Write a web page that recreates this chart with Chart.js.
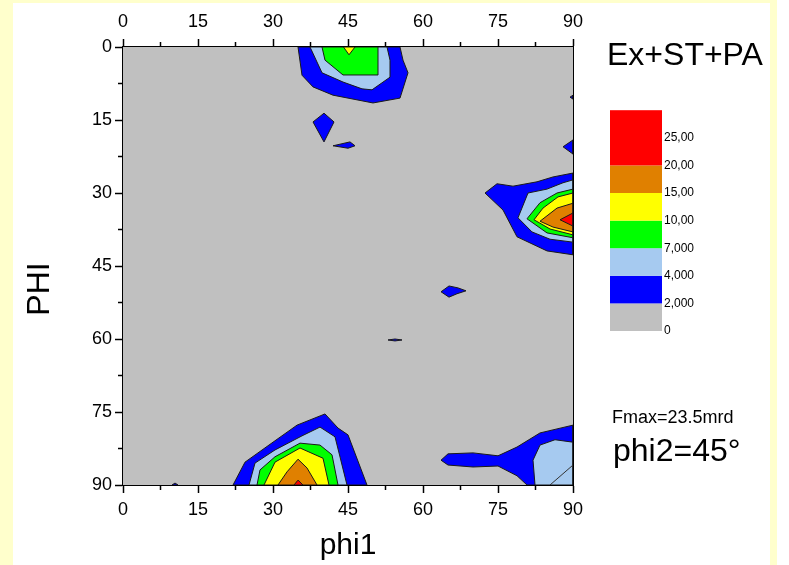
<!DOCTYPE html>
<html><head><meta charset="utf-8">
<script src="https://cdn.jsdelivr.net/npm/chart.js@4.4.0/dist/chart.umd.min.js"></script>
<style>
html,body{margin:0;padding:0;background:#fff;}
#wrap{position:relative;width:789px;height:565px;overflow:hidden;background:#fff;}
.yl{position:absolute;background:#ffffcc;}
canvas{position:absolute;left:0;top:0;}
</style></head><body>
<div id="wrap">
<div class="yl" style="left:0;top:0;width:13px;height:565px"></div>
<div class="yl" style="left:0;top:0;width:777px;height:3px"></div>
<div class="yl" style="left:770px;top:0;width:7px;height:565px"></div>
<canvas id="c" width="789" height="565"></canvas>
</div>
<script>
// ---- axis ticks ----
const phi1Ticks = [0, 15, 30, 45, 60, 75, 90];
const phiTicks = [0, 15, 30, 45, 60, 75, 90];
const minorTicks = [7.5, 22.5, 37.5, 52.5, 67.5, 82.5];

// ---- contour levels (legend) ----
const levelLabels = ['0', '2,000', '4,000', '7,000', '10,00', '15,00', '20,00', '25,00'];
const levelColors = ['#c0c0c0', '#0000ff', '#a6caf0', '#00ff00', '#ffff00', '#e08000', '#ff0000'];

// ---- contour outlines [phi1, PHI] ----
// peak at phi1≈45, PHI≈0
const topBlue = [[35,0],[35.8,5.8],[38,8.2],[42,9.9],[50,11.5],[55.4,10.5],[57,5.3],[56,2.7],[55.4,0]];
const topLightBlue = [[37.4,0],[39.8,5.3],[44,7.2],[47.8,8.6],[49.8,8.8],[53.4,6.2],[53.4,2.7],[52.8,0]];
const topGreen = [[39.8,0],[40.4,2.7],[44,5.75],[51,5.75],[51,0]];
const topYellow = [[44.1,0],[45.2,1.6],[46.4,0]];
// small islands
const diamondBlue = [[38,15.4],[40.2,13.6],[42.2,15.4],[40.2,19.5]];
const sliverBlue = [[42,20.3],[45.4,19.5],[46.4,20.3],[45,20.8]];
const edgeBlueA = [[89.4,10.3],[90,9.9],[90,10.7]];
const edgeBlueB = [[88,20.5],[90,19.1],[90,22]];
const midBlueA = [[63.6,50.3],[65.2,49.1],[67,49.5],[68.6,50.1],[66.8,50.7],[65.2,51.4]];
const midBlueB = [[53,60.2],[54.4,60],[55.8,60.2],[54.4,60.4]];
const tinyBlue = [[9.8,90],[10.4,89.6],[11,90]];
// peak at phi1=90, PHI≈35
const rightBlue = [[72.4,30],[74.8,28.1],[78,28.6],[82.8,27.7],[86,26.7],[90,25.9],[90,42.7],[84.8,41.9],[78.8,39],[76,33.5]];
const rightLightBlue = [[79,35.1],[81,30],[84.8,29.2],[88,27.9],[90,27.3],[90,40.1],[85.4,39.5],[81.8,38]];
const rightGreen = [[80.8,35.3],[83.4,32],[86.8,30],[90,29.2],[90,39.2],[84.8,38.2]];
const rightYellow = [[82.2,35.5],[84,33.1],[87,30.8],[90,30],[90,38.6],[85.4,37.4]];
const rightOrange = [[83.4,35.8],[86.8,33.1],[90,32.1],[90,38],[86,37]];
const rightRed = [[87.4,35.5],[90,34.1],[90,36.8]];
// peak at phi1≈35, PHI=90
const bottomBlue = [[22,90],[24.4,85.3],[30,81.2],[34.8,77.7],[40.4,75.4],[43,78.3],[45,79.7],[48.8,90]];
const bottomLightBlue = [[25.2,90],[26.4,85.5],[30.4,82.8],[35.8,79.9],[39.4,78.1],[42.4,80.1],[44.8,90]];
const bottomGreen = [[26.8,90],[27.4,86.9],[30.4,84.2],[35.4,81.4],[39.4,81.8],[41.8,83.8],[43,90]];
const bottomYellow = [[28.2,90],[30.4,85.3],[35.4,82.4],[40,84.5],[41.2,90]];
const bottomOrange = [[31,90],[32.8,87.3],[35,84.7],[36.8,86.5],[38.8,90]];
const bottomRed = [[34.2,90],[35,89],[36,90]];
// corner phi1=90, PHI=90
const cornerBlue = [[63.6,84.9],[65,83.6],[70,83.4],[75,84],[78.8,82.2],[83.4,79.3],[90,77.7],[90,90],[80.8,90],[78.8,88.1],[75,86.1],[70,86.3],[65,85.9]];
const cornerLightBlue = [[82.4,90],[82,84.9],[83.4,81.8],[86.4,80.7],[90,81.2],[90,90]];
const cornerLine = [[85.4,90],[90,85.9]];

const contours = [
  [topBlue,1],[topLightBlue,2],[topGreen,3],[topYellow,4],
  [diamondBlue,1],[sliverBlue,1],[edgeBlueA,1],[edgeBlueB,1],[midBlueA,1],[midBlueB,1],[tinyBlue,1],
  [rightBlue,1],[rightLightBlue,2],[rightGreen,3],[rightYellow,4],[rightOrange,5],[rightRed,6],
  [bottomBlue,1],[bottomLightBlue,2],[bottomGreen,3],[bottomYellow,4],[bottomOrange,5],[bottomRed,6],
  [cornerBlue,1],[cornerLightBlue,2]
];

const FONT = '"Liberation Sans", Arial, sans-serif';

const datasets = contours.map(([pts, lvl]) => ({
  data: pts.concat([pts[0]]).map(p => ({x: p[0], y: p[1]})),
  fill: 'shape',
  backgroundColor: levelColors[lvl],
  borderColor: '#1a1a1a',
  borderWidth: 1,
  pointRadius: 0,
  tension: 0,
  order: 20 - lvl
}));
datasets.push({
  data: cornerLine.map(p => ({x: p[0], y: p[1]})),
  fill: false, borderColor: '#333', borderWidth: 1, pointRadius: 0, tension: 0, order: 0
});

const bgPlugin = {
  id: 'bg',
  beforeDatasetsDraw(chart) {
    const {ctx, chartArea: a} = chart;
    ctx.save();
    ctx.fillStyle = levelColors[0];
    ctx.fillRect(a.left, a.top, a.right - a.left, a.bottom - a.top);
    ctx.restore();
  }
};

const minorPlugin = {
  id: 'minor',
  afterDraw(chart) {
    const {ctx, chartArea: a, scales} = chart;
    ctx.save();
    ctx.strokeStyle = '#000';
    ctx.lineWidth = 1.5;
    ctx.beginPath();
    minorTicks.forEach(v => {
      const x = scales.x.getPixelForValue(v);
      ctx.moveTo(x, a.bottom); ctx.lineTo(x, a.bottom + 5);
      const x2 = scales.x2.getPixelForValue(v);
      ctx.moveTo(x2, a.top); ctx.lineTo(x2, a.top - 5);
      const y = scales.y.getPixelForValue(v);
      ctx.moveTo(a.left, y); ctx.lineTo(a.left - 5, y);
    });
    ctx.stroke();
    ctx.restore();
  }
};

const textPlugin = {
  id: 'texts',
  afterDraw(chart) {
    const ctx = chart.ctx;
    ctx.save();
    ctx.fillStyle = '#000';
    ctx.textBaseline = 'middle';
    ctx.textAlign = 'left';
    ctx.font = '32px ' + FONT;
    ctx.fillText('Ex+ST+PA', 607, 56);
    ctx.font = '18px ' + FONT;
    ctx.fillText('Fmax=23.5mrd', 612, 418);
    ctx.font = '32px ' + FONT;
    ctx.fillText('phi2=45°', 613, 452);
    // y-axis title
    ctx.save();
    ctx.translate(40, 289);
    ctx.rotate(-Math.PI / 2);
    ctx.textAlign = 'center';
    ctx.font = '32px ' + FONT;
    ctx.fillText('PHI', 0, 0);
    ctx.restore();
    // colour scale
    const left = 610, w = 52, bottom = 331, step = 27.6;
    for (let i = 0; i < levelColors.length; i++) {
      const yb = bottom - i * step;
      const h = (i === levelColors.length - 1) ? 2 * step : step;
      ctx.fillStyle = levelColors[i];
      ctx.fillRect(left, yb - h, w, h);
    }
    ctx.fillStyle = '#000';
    ctx.font = '12px ' + FONT;
    levelLabels.forEach((t, i) => ctx.fillText(t, left + w + 2, bottom - i * step));
    ctx.restore();
  }
};

function axisBase(ticksArr, extra, pad) {
  return Object.assign({
    type: 'linear', min: 0, max: 90,
    afterBuildTicks: s => { s.ticks = ticksArr.map(v => ({value: v})); },
    ticks: {font: {family: FONT, size: 18}, color: '#000', maxRotation: 0, autoSkip: false, padding: pad},
    grid: {drawOnChartArea: false, drawTicks: true, tickLength: 8, tickColor: '#000', tickWidth: 1.5},
    border: {display: true, color: '#000', width: 2}
  }, extra);
}

new Chart(document.getElementById('c'), {
  type: 'line',
  data: {datasets},
  options: {
    responsive: false,
    animation: false,
    events: [],
    layout: {padding: 0},
    plugins: {legend: {display: false}, tooltip: {enabled: false}},
    scales: {
      x: axisBase(phi1Ticks, {
        position: 'bottom',
        title: {display: true, text: 'phi1', color: '#000', font: {family: FONT, size: 30}, padding: {top: 0, bottom: 1}},
        afterFit: s => { s.height = 80; }
      }, 6),
      x2: axisBase(phi1Ticks, {position: 'top', afterFit: s => { s.height = 47; }}, 6),
      y: axisBase(phiTicks, {position: 'left', reverse: true, afterFit: s => { s.width = 123; }}, 3),
      y2: {type: 'linear', position: 'right', min: 0, max: 90,
        ticks: {display: false}, grid: {drawOnChartArea: false, drawTicks: false},
        border: {display: true, color: '#000', width: 2},
        afterFit: s => { s.width = 216; }}
    }
  },
  plugins: [bgPlugin, minorPlugin, textPlugin]
});
</script>
</body></html>
